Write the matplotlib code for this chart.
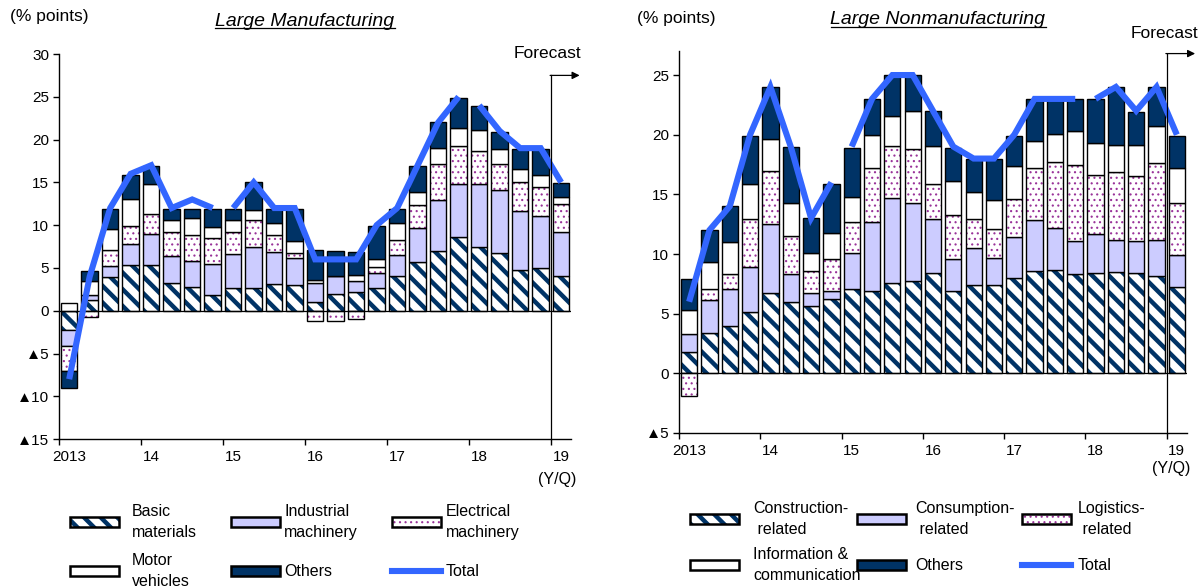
import matplotlib
matplotlib.use("Agg")
import matplotlib.pyplot as plt
from matplotlib.patches import Rectangle
from matplotlib.lines import Line2D
from matplotlib.ticker import FixedLocator, FuncFormatter

plt.rcParams['font.family'] = ['Liberation Sans', 'DejaVu Sans']

# quarters 2013Q1 .. 2019Q1 (last one is the forecast)
year_labels = ['2013', '14', '15', '16', '17', '18', '19']

# Large manufacturing contributions (% points)
basic = [-2.3, 1.25, 3.9, 5.4, 5.4, 3.2, 2.8, 1.8, 2.6, 2.6, 3.1, 3.0, 1.0,
         2.0, 2.2, 2.6, 4.05, 5.65, 7.0, 8.65, 7.4, 6.8, 4.8, 4.95, 4.0]
industrial = [-1.8, 0.6, 1.3, 2.4, 3.6, 3.2, 3.0, 3.7, 4.0, 4.8, 3.8, 3.2, 2.2,
              2.0, 1.3, 1.8, 2.5, 4.0, 5.9, 6.15, 7.4, 7.3, 6.8, 6.15, 5.2]
electrical = [-3.0, -0.7, 1.9, 2.1, 2.3, 2.8, 3.0, 3.0, 2.6, 3.2, 1.9, 0.6, -1.2,
              -1.2, -1.0, 0.7, 1.7, 2.7, 4.3, 4.4, 3.9, 3.1, 3.4, 3.4, 3.3]
motor = [0.9, 1.6, 2.5, 3.2, 3.5, 1.4, 2.0, 1.3, 1.4, 1.2, 1.5, 1.3, 0.4,
         0.0, 0.7, 1.0, 2.0, 1.5, 1.8, 2.1, 2.4, 1.7, 1.6, 1.4, 0.8]
others_m = [-1.9, 1.2, 2.3, 2.8, 2.1, 1.3, 1.1, 2.1, 1.3, 3.2, 1.6, 3.8, 3.5,
            3.0, 2.7, 3.8, 1.6, 3.1, 3.0, 3.6, 2.8, 2.0, 2.3, 3.0, 1.6]
total_m = [-8, 4, 12, 16, 17, 12, 13, 12, 12, 15, 12, 12, 6,
           6, 6, 10, 12, 17, 22, 25, 24, 21, 19, 19, 15]

# Large nonmanufacturing contributions (% points)
construction = [1.75, 3.35, 3.95, 5.1, 6.7, 6.0, 5.65, 6.2, 7.05, 6.9, 7.6, 7.75, 8.4,
                6.9, 7.4, 7.4, 8.0, 8.6, 8.7, 8.3, 8.4, 8.5, 8.4, 8.15, 7.25]
consumption = [1.55, 2.8, 3.1, 3.85, 5.8, 2.3, 1.05, 0.7, 3.05, 5.75, 7.1, 6.5, 4.5,
               2.7, 3.1, 2.3, 3.4, 4.25, 3.5, 2.8, 3.25, 2.7, 2.7, 3.05, 2.7]
logistics = [-1.9, 0.9, 1.25, 3.95, 4.45, 3.2, 1.9, 2.65, 2.55, 4.55, 4.35, 4.55, 3.0,
             3.7, 2.4, 2.4, 3.2, 4.35, 5.5, 6.35, 4.95, 5.7, 5.4, 6.4, 4.3]
info = [2.0, 2.25, 2.7, 3.0, 2.65, 2.75, 1.5, 2.25, 2.15, 2.8, 2.55, 3.2, 3.15,
        2.8, 2.3, 2.4, 2.8, 2.3, 2.4, 2.85, 2.7, 2.2, 2.6, 3.1, 2.95]
others_n = [2.6, 2.7, 3.0, 4.0, 4.4, 4.7, 2.9, 4.1, 4.1, 3.0, 3.4, 3.0, 2.9,
            2.8, 2.8, 3.5, 2.5, 3.5, 2.9, 2.7, 3.7, 4.9, 2.8, 3.3, 2.7]
total_n = [6, 12, 14, 20, 24, 19, 13, 16, 19, 23, 25, 25, 22,
           19, 18, 18, 20, 23, 23, 23, 23, 24, 22, 24, 20]

# the line is broken where the survey sample was revised (2015Q1, 2018Q1)
breaks = [8, 20]

NAVY = '#003366'
LAV = '#CCCCFF'
DOT = '#993399'
BLUE = '#3366FF'

# face, hatch, hatch colour, hatch width
styles = [
    ('white', '\\\\', NAVY, 3.2),
    (LAV, None, None, 0),
    ('white', '...', DOT, 0.8),
    ('white', None, None, 0),
    (NAVY, None, None, 0),
]


def layer(ax, x, h, b, st, w=0.8):
    face, hatch, hcol, hlw = st
    if hatch:
        bars = ax.bar(x, h, bottom=b, width=w, color=face, edgecolor=hcol,
                      hatch=hatch, linewidth=0)
        for p in bars:
            if hasattr(p, 'set_hatch_linewidth'):
                p.set_hatch_linewidth(hlw)
        ax.bar(x, h, bottom=b, width=w, facecolor='none', edgecolor='black', linewidth=1.0)
    else:
        ax.bar(x, h, bottom=b, width=w, color=face, edgecolor='black', linewidth=1.0)


def panel(ax, series, total, ylim, yticks, fc_top, fc_text):
    n = len(total)
    x = [i + 0.5 for i in range(n)]
    pos = [0.0] * n
    neg = [0.0] * n
    for s, st in zip(series, styles):
        h = []
        b = []
        for i, v in enumerate(s):
            if v >= 0:
                b.append(pos[i]); pos[i] += v
            else:
                b.append(neg[i]); neg[i] += v
            h.append(v)
        layer(ax, x, h, b, st)
    ax.axhline(0, color='black', lw=0.9)
    cuts = [0] + breaks + [n]
    for a, c in zip(cuts[:-1], cuts[1:]):
        ax.plot(x[a:c], total[a:c], color=BLUE, lw=4.4, solid_joinstyle='miter',
                solid_capstyle='butt', zorder=5)

    ax.set_xlim(0, n)
    ax.set_ylim(*ylim)
    ax.set_yticks(yticks)
    ax.yaxis.set_major_formatter(FuncFormatter(
        lambda v, p: '\u25b2%d' % -v if v < 0 else '%d' % v))
    ax.set_xticks(range(0, n, 4))
    ax.set_xticklabels([])
    ax.xaxis.set_minor_locator(FixedLocator([k + 0.5 for k in range(0, n, 4)]))
    ax.xaxis.set_minor_formatter(FuncFormatter(lambda v, p: year_labels[int(v) // 4]))
    ax.tick_params(axis='x', which='minor', length=0, pad=8, labelsize=11)
    ax.tick_params(axis='x', which='major', length=4, width=1, direction='out')
    ax.tick_params(axis='y', length=4, width=1, labelsize=11, pad=3)
    for sp in ['top', 'right']:
        ax.spines[sp].set_visible(False)
    for sp in ['left', 'bottom']:
        ax.spines[sp].set_linewidth(1.0)

    # forecast marker
    ax.plot([24, 24], [ylim[0], fc_top], color='black', lw=0.9, clip_on=False, zorder=6)
    ax.annotate('', xy=(25.4, fc_top), xytext=(23.96, fc_top),
                arrowprops=dict(arrowstyle='-|>', color='black', lw=0.9, mutation_scale=11,
                                shrinkA=0, shrinkB=0),
                annotation_clip=False)
    ax.text(fc_text[0], fc_text[1], 'Forecast', fontsize=12.5, ha=fc_text[2], va='center',
            clip_on=False)


fig = plt.figure(figsize=(12.03, 5.87), dpi=100)
axL = fig.add_axes([0.049, 0.252, 0.426, 0.656])
axR = fig.add_axes([0.5644, 0.2624, 0.4223, 0.6504])

panel(axL, [basic, industrial, electrical, motor, others_m], total_m, (-15, 30),
      range(-15, 31, 5), 27.5, (23.85, 30.1, 'center'))
panel(axR, [construction, consumption, logistics, info, others_n], total_n, (-5, 27),
      range(-5, 26, 5), 26.8, (22.25, 28.5, 'left'))

axL.text(24.3, -0.106, '(Y/Q)', transform=axL.get_xaxis_transform(), fontsize=11.5,
         ha='center', va='center')
axR.text(24.2, -0.092, '(Y/Q)', transform=axR.get_xaxis_transform(), fontsize=11.5,
         ha='center', va='center')

W, H = 1203.0, 587.0


def fx(px):
    return px / W


def fy(py):
    return 1 - py / H


fig.text(fx(10), fy(17), '(% points)', fontsize=12.5, va='center', ha='left')
fig.text(fx(637), fy(19), '(% points)', fontsize=12.5, va='center', ha='left')
titles = [fig.text(fx(305), fy(21), 'Large Manufacturing', fontsize=14, style='italic',
                   ha='center', va='center'),
          fig.text(fx(938), fy(20), 'Large Nonmanufacturing', fontsize=14, style='italic',
                   ha='center', va='center')]


def legend_item(x, y, kind, label, tx=56):
    pw, ph = 49, 10
    if kind == 'line':
        fig.add_artist(Line2D([fx(x), fx(x + pw)], [fy(y), fy(y)], color=BLUE, lw=4.4,
                              transform=fig.transFigure))
    else:
        face, hatch, hcol, hlw = styles[kind]
        if hatch:
            r = Rectangle((fx(x), fy(y + ph / 2)), fx(pw), ph / H, transform=fig.transFigure,
                          facecolor=face, edgecolor=hcol, hatch=hatch, linewidth=0)
            if hasattr(r, 'set_hatch_linewidth'):
                r.set_hatch_linewidth(hlw)
            fig.add_artist(r)
            fig.add_artist(Rectangle((fx(x), fy(y + ph / 2)), fx(pw), ph / H,
                                     transform=fig.transFigure, facecolor='none',
                                     edgecolor='black', linewidth=1.8))
        else:
            fig.add_artist(Rectangle((fx(x), fy(y + ph / 2)), fx(pw), ph / H,
                                     transform=fig.transFigure, facecolor=face,
                                     edgecolor='black', linewidth=1.8))
    fig.text(fx(x + tx), fy(y), label, fontsize=11.5, va='center', ha='left', linespacing=1.45)


legend_item(70, 522, 0, 'Basic\nmaterials', tx=62)
legend_item(231, 522, 1, 'Industrial\nmachinery', tx=53)
legend_item(392, 522, 2, 'Electrical\nmachinery', tx=54)
legend_item(70, 571, 3, 'Motor\nvehicles', tx=62)
legend_item(231, 571, 4, 'Others', tx=53)
legend_item(392, 571, 'line', 'Total', tx=54)

legend_item(690, 519, 0, 'Construction-\n related', tx=63)
legend_item(857, 519, 1, 'Consumption-\n related', tx=58)
legend_item(1022, 519, 2, 'Logistics-\n related', tx=56)
legend_item(690, 565, 3, 'Information &\ncommunication', tx=63)
legend_item(857, 565, 4, 'Others', tx=58)
legend_item(1022, 565, 'line', 'Total', tx=56)

# underline the panel titles
fig.canvas.draw()
inv = fig.transFigure.inverted()
for t in titles:
    bb = t.get_window_extent()
    (x0, y0), (x1, y1) = inv.transform([[bb.x0, bb.y0], [bb.x1, bb.y1]])
    fig.add_artist(Line2D([x0, x1], [y0 + 0.002, y0 + 0.002], color='black', lw=0.9,
                          transform=fig.transFigure))

fig.savefig('out.png', dpi=100)
